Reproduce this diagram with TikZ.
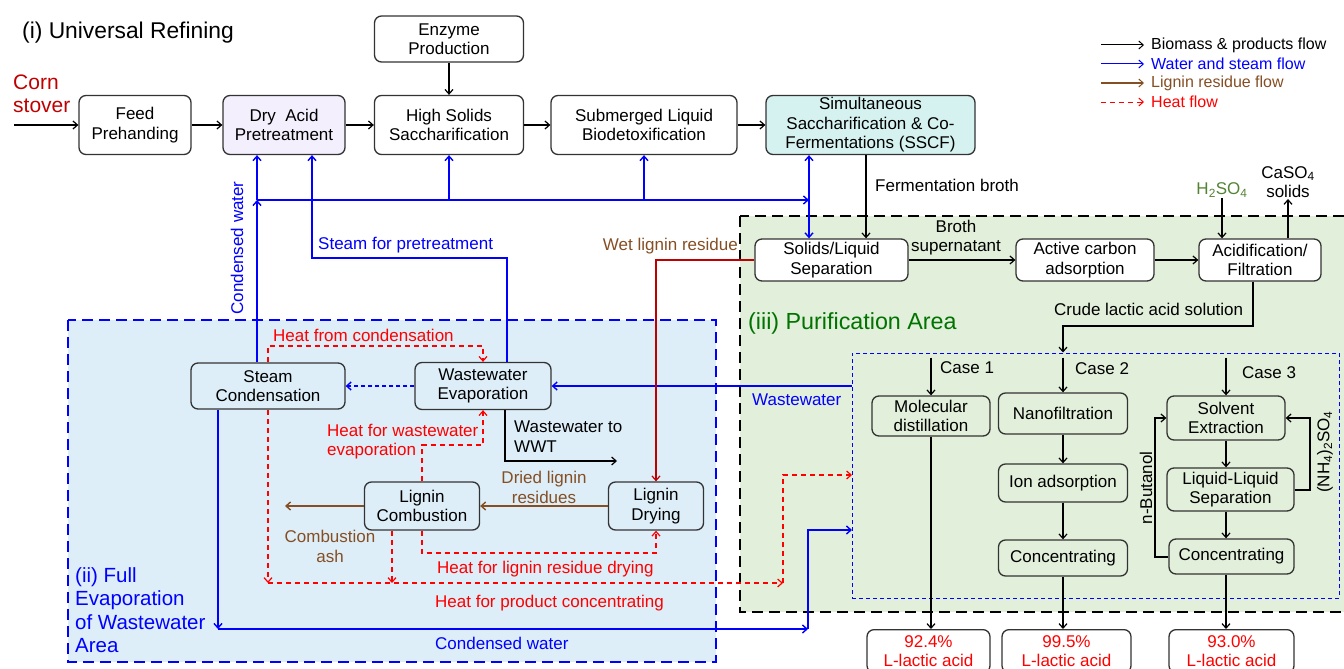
\documentclass[tikz,border=0pt]{standalone}
\usepackage{fontspec}
\setmainfont{Liberation Sans}
\usetikzlibrary{arrows.meta}
\definecolor{cblue}{RGB}{0,0,255}
\definecolor{cred}{RGB}{255,0,0}
\definecolor{cdred}{RGB}{192,0,0}
\definecolor{cbrown}{RGB}{133,78,35}
\definecolor{cgreen}{RGB}{0,115,0}
\definecolor{colive}{RGB}{84,130,53}
\definecolor{regblue}{RGB}{221,238,248}
\definecolor{reggreen}{RGB}{226,239,218}
\definecolor{lav}{RGB}{244,239,252}
\definecolor{cyanf}{RGB}{214,242,240}
\newcommand\myfs{\fontsize{17}{19.5}\selectfont}
\newcommand\mylg{\fontsize{16}{19}\selectfont}
\begin{document}
\begin{tikzpicture}[x=1pt,y=-1pt,
  >={Straight Barb[length=4.5pt,width=8pt]},
  box/.style={draw=black!80, line width=1.3pt, rounded corners=7pt, align=center, inner sep=1pt, font=\myfs, fill=white},
  bk/.style={draw=black, line width=1.2pt, ->},
  bl/.style={draw=cblue, line width=1.4pt, ->},
  hd/.style={draw=cred, line width=1.2pt, dash pattern=on 5pt off 4pt, ->},
  br/.style={draw=cbrown, line width=1.4pt, ->},
  wr/.style={draw=cdred, line width=1.2pt, ->},
  lbl/.style={font=\myfs, inner sep=0pt, align=left},
  region/.style={line width=2.6pt, dash pattern=on 11pt off 6pt},
]
\useasboundingbox (0,0) rectangle (1344,669);

% regions
\path[region, fill=regblue, draw=cblue] (68,320) rectangle (716,662);
\path[region, fill=reggreen, draw=black] (740,216) rectangle (1360,612);
\node[draw=cblue, line width=1pt, dash pattern=on 4pt off 3pt, minimum width=487pt, minimum height=245pt, inner sep=0pt] (cases) at (1095.5,475.5) {};

% top row
\node[box, minimum width=112pt, minimum height=59pt] (feed) at (135,125) {Feed\\Prehanding};
\node[box, fill=lav, minimum width=122pt, minimum height=59pt] (dry) at (284,125) {Dry\ \ Acid\\Pretreatment};
\node[box, minimum width=149pt, minimum height=59pt] (hss) at (449,125) {High Solids\\Saccharification};
\node[box, minimum width=149pt, minimum height=46pt] (enz) at (449,39) {Enzyme\\Production};
\node[box, minimum width=186pt, minimum height=59pt] (sub) at (644,125) {Submerged Liquid\\Biodetoxification};
\node[box, fill=cyanf, minimum width=209pt, minimum height=59pt] (sscf) at (870.5,125) {Simultaneous\\Saccharification \& Co-\\Fermentations (SSCF)};

% region ii boxes
\node[box, fill=regblue, minimum width=154pt, minimum height=46pt] (sc) at (268,386) {Steam\\Condensation};
\node[box, fill=regblue, minimum width=136pt, minimum height=47pt] (we) at (483,386) {Wastewater\\Evaporation};
\node[box, fill=regblue, minimum width=115pt, minimum height=48pt] (lc) at (422,506) {Lignin\\Combustion};
\node[box, fill=regblue, minimum width=95pt, minimum height=48pt] (ld) at (656,506) {Lignin\\Drying};

% region iii boxes
\node[box, minimum width=153pt, minimum height=42pt] (sl) at (831.5,260) {Solids/Liquid\\Separation};
\node[box, minimum width=138pt, minimum height=42pt] (ac) at (1085,260) {Active carbon\\adsorption};
\node[box, minimum width=122pt, minimum height=42pt] (af) at (1260,260) {Acidification/\\Filtration};
\node[box, fill=reggreen, minimum width=118pt, minimum height=40pt] (md) at (931,416) {Molecular\\distillation};
\node[box, fill=reggreen, minimum width=129pt, minimum height=41pt] (nf) at (1063,413.5) {Nanofiltration};
\node[box, fill=reggreen, minimum width=129pt, minimum height=38pt] (ia) at (1063,483) {Ion adsorption};
\node[box, fill=reggreen, minimum width=129pt, minimum height=36pt] (cn2) at (1063,558) {Concentrating};
\node[box, fill=reggreen, minimum width=118pt, minimum height=44pt] (se) at (1226,418) {Solvent\\Extraction};
\node[box, fill=reggreen, minimum width=127pt, minimum height=43pt] (ll) at (1230.5,489.5) {Liquid-Liquid\\Separation};
\node[box, fill=reggreen, minimum width=125pt, minimum height=35pt] (cn3) at (1231.5,556.5) {Concentrating};
\node[box, text=cred, anchor=north, minimum width=123pt, minimum height=43pt] (p1) at (928.5,629) {92.4\%\\L-lactic acid};
\node[box, text=cred, anchor=north, minimum width=129pt, minimum height=43pt] (p2) at (1066.5,629) {99.5\%\\L-lactic acid};
\node[box, text=cred, anchor=north, minimum width=125pt, minimum height=43pt] (p3) at (1231.5,629) {93.0\%\\L-lactic acid};

% free-end coordinates
\coordinate (cs) at (14,125);
\coordinate (wl) at (257,200);
\coordinate (wr) at (809,200);
\coordinate (sp) at (312,258);
\coordinate (cw1) at (218,629);
\coordinate (cw2) at (808,629);
\coordinate (cw3) at (852,530);
\coordinate (hb) at (268,583);
\coordinate (hc) at (783,583);
\coordinate (hp) at (852,475);
\coordinate (hf) at (268,346);
\coordinate (hdr) at (422,553);
\coordinate (hwe) at (422,445);
\coordinate (wwt) at (617,461);
\coordinate (ash) at (285,506);
\coordinate (crd) at (1253,326);
\coordinate (nbu) at (1155,557);
\coordinate (nhs) at (1310,490);

% black main flow
\draw[bk] (cs) -- (feed.west);
\draw[bk] (feed) -- (dry);
\draw[bk] (dry) -- (hss);
\draw[bk] (hss) -- (sub);
\draw[bk] (sub) -- (sscf);
\draw[bk] (enz) -- (hss);

% blue water network
\draw[bl] ([xshift=-11pt]sc.north) -- (wl);
\draw[bl] (wl) -- (wl |- dry.south);
\draw[bl] (wl) -- (wr);
\draw[bl] (wl -| hss.south) -- (hss.south);
\draw[bl] (wl -| sub.south) -- (sub.south);
\draw[bl, <->] (wr |- sscf.south) -- (wr |- sl.north);
\draw[bl] ([xshift=24pt]we.north) |- (sp) -- (sp |- dry.south);
\draw[bl] (cases.west |- we.east) -- (we.east);
\draw[bl, dash pattern=on 4pt off 3pt] (we.west) -- (sc.east);
\draw[bl] ([xshift=-50pt]sc.south) -- (cw1);
\draw[bl] (cw1) -- (cw2);
\draw[bl] (cw2) |- (cw3);

% heat
\draw[hd] (sc.north) -- (hf) -| (we.north);
\draw[hd] (sc.south) -- (hb);
\draw[hd] (hb) -- (hc);
\draw[hd] (hc) |- (hp);
\draw[hd] ([xshift=-30pt]lc.south) -- ([xshift=-30pt]lc.south |- hb);
\draw[hd] (lc.south) -- (hdr) -| (ld.south);
\draw[hd] (lc.north) -- (hwe) -| (we.south);

% region ii other flows
\draw[bk] ([xshift=22pt]we.south) |- (wwt);
\draw[br] (ld.west) -- (lc.east);
\draw[br] (lc.west) -- (ash);
\draw[wr] (sl.west) -| (ld.north);

% purification
\draw[bk] ([xshift=-4.5pt]sscf.south) -- ([xshift=-4.5pt]sscf.south |- sl.north);
\draw[bk] (sl) -- (ac);
\draw[bk] (ac) -- (af);
\node[font=\myfs, text=colive, inner sep=1pt] (h2) at (1222,190) {H\textsubscript{2}SO\textsubscript{4}};
\draw[bk] (h2.south) -- (h2.south |- af.north);
\node[font=\myfs, align=center, inner sep=1pt] (caso) at (1288,182) {CaSO\textsubscript{4}\\solids};
\draw[bk] (af.south -| crd) -- (crd) -| (cases.north -| nf);
\draw[bk] (af.north -| caso) -- (caso.south);
\draw[bk] ([yshift=-5pt]cases.north -| md) -- (md.north);
\draw[bk] ([yshift=-5pt]cases.north -| nf) -- (nf.north);
\draw[bk] ([yshift=-5pt]cases.north -| se) -- (se.north);
\draw[bk] (md.south) -- (md.south |- p1.north);
\draw[bk] (nf) -- (ia);
\draw[bk] (ia) -- (cn2);
\draw[bk] (cn2.south) -- (cn2.south |- p2.north);
\draw[bk] (se.south) -- (se.south |- ll.north);
\draw[bk] (ll.south -| se) -- (cn3.north -| se);
\draw[bk] (cn3.south -| se) -- (p3.north -| se);
\draw[bk] (cn3.west |- nbu) -- (nbu) |- (se.west);
\draw[bk] (ll.east |- nhs) -- (nhs) |- (se.east);

% legend
\coordinate (l1a) at (1101,45); \coordinate (l1b) at (1144,45);
\coordinate (l2a) at (1101,64); \coordinate (l2b) at (1144,64);
\coordinate (l3a) at (1101,83); \coordinate (l3b) at (1144,83);
\coordinate (l4a) at (1101,102); \coordinate (l4b) at (1144,102);
\draw[bk, line width=1pt] (l1a) -- (l1b);
\draw[bl, line width=1pt] (l2a) -- (l2b);
\draw[br, line width=1pt] (l3a) -- (l3b);
\draw[hd, line width=1pt] (l4a) -- (l4b);
\node[font=\mylg, anchor=west, inner sep=0pt] (lg1) at (1151,45) {Biomass \& products flow};
\node[font=\mylg, anchor=west, inner sep=0pt, text=cblue] (lg2) at (1151,64) {Water and steam flow};
\node[font=\mylg, anchor=west, inner sep=0pt, text=cbrown] (lg3) at (1151,83) {Lignin residue flow};
\node[font=\mylg, anchor=west, inner sep=0pt, text=cred] (lg4) at (1151,102) {Heat flow};

% labels
\node[font=\fontsize{22.8}{26}\selectfont, anchor=west, inner sep=0pt] (t1) at (22,33) {(i) Universal Refining};
\node[font=\fontsize{21}{23.5}\selectfont, text=cdred, anchor=west, inner sep=0pt, align=left] (corn) at (13,94) {Corn\\stover};
\node[lbl, text=cblue, rotate=90] (lcw) at (237,248) {Condensed water};
\node[lbl, text=cblue, anchor=west] (lsp) at (318,245) {Steam for pretreatment};
\node[lbl, text=cred, anchor=west] (lhc) at (273,335) {Heat from condensation};
\node[lbl, text=cred, anchor=west] (lhw) at (327,441.5) {Heat for wastewater\\evaporation};
\node[lbl, anchor=west] (lww) at (514,436.5) {Wastewater to\\WWT};
\node[lbl, text=cbrown, align=center] (ldl) at (544,487.5) {Dried lignin\\residues};
\node[lbl, text=cbrown, align=center] (lca) at (330,546.5) {Combustion\\ash};
\node[lbl, text=cred, anchor=west] (lhd) at (437,569) {Heat for lignin residue drying};
\node[lbl, text=cred, anchor=west] (lhp) at (435,603) {Heat for product concentrating};
\node[lbl, text=cblue, anchor=west] (lcw2) at (435,643) {Condensed water};
\node[font=\fontsize{20.5}{23.5}\selectfont, text=cblue, anchor=west, inner sep=0pt, align=left] (t2) at (75,610) {(ii) Full\\Evaporation\\of Wastewater\\Area};
\node[lbl, text=cblue, anchor=west] (lwst) at (752,400) {Wastewater};
\node[lbl, text=cbrown, anchor=east] (lwet) at (738,246) {Wet lignin residue};
\node[font=\fontsize{23.3}{26}\selectfont, text=cgreen, anchor=west, inner sep=0pt] (t3) at (748,323) {(iii) Purification Area};
\node[lbl, anchor=west] (lfb) at (875,185) {Fermentation broth};
\node[lbl, align=center] (lbs) at (956,237.5) {Broth\\supernatant};
\node[lbl, anchor=west] (lcr) at (1054,309) {Crude lactic acid solution};
\node[lbl, anchor=west] (c1) at (940,368) {Case 1};
\node[lbl, anchor=west] (c2) at (1075,369) {Case 2};
\node[lbl, anchor=west] (c3) at (1242,373) {Case 3};
\node[lbl, rotate=90] (lnb) at (1146,488) {n-Butanol};
\node[lbl, rotate=90] (lns) at (1325,452) {(NH\textsubscript{4})\textsubscript{2}SO\textsubscript{4}};
\end{tikzpicture}
\end{document}
